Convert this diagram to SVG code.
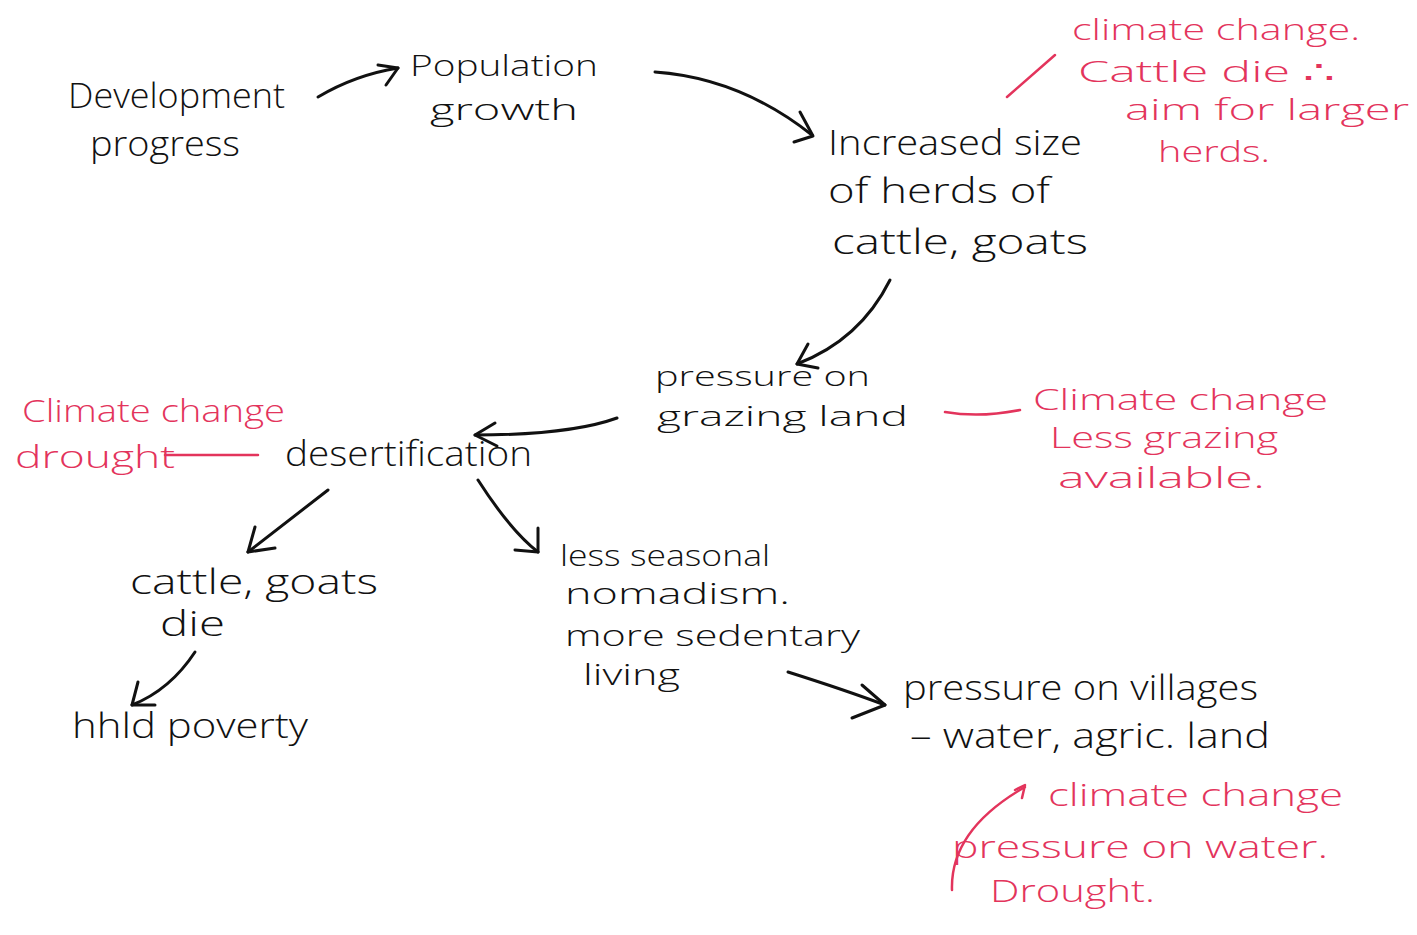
<svg xmlns="http://www.w3.org/2000/svg" width="1417" height="935" viewBox="0 0 1417 935">
<style>
.t{font-family:"Open Sans","Liberation Sans",sans-serif;font-size:34px;fill:#111;font-weight:300}
.r{font-family:"Open Sans","Liberation Sans",sans-serif;font-size:32px;fill:#e3345c;font-weight:300}
.s{font-size:30px}
.xs{font-size:28px}
.c{fill:none;stroke:#111;stroke-width:3;stroke-linecap:round;stroke-linejoin:round}
.cr{fill:none;stroke:#e3345c;stroke-width:2.5;stroke-linecap:round;stroke-linejoin:round}
</style>
<rect width="1417" height="935" fill="#fff"/>
<g id="development">
<text class="t" x="68" y="108" textLength="217" lengthAdjust="spacingAndGlyphs">Development</text>
<text class="t" x="90" y="156" textLength="150" lengthAdjust="spacingAndGlyphs">progress</text>
</g>
<g id="population">
<text class="t s" x="410" y="76" textLength="188" lengthAdjust="spacingAndGlyphs">Population</text>
<text class="t s" x="430" y="120" textLength="148" lengthAdjust="spacingAndGlyphs">growth</text>
</g>
<g id="herds">
<text class="t" x="828" y="155" textLength="254" lengthAdjust="spacingAndGlyphs">Increased size</text>
<text class="t" x="828" y="203" textLength="222" lengthAdjust="spacingAndGlyphs">of herds of</text>
<text class="t" x="832" y="254" textLength="256" lengthAdjust="spacingAndGlyphs">cattle, goats</text>
</g>
<g id="note-herds">
<text class="r s" x="1072" y="40" textLength="288" lengthAdjust="spacingAndGlyphs">climate change.</text>
<text class="r s" x="1078" y="82" textLength="257" lengthAdjust="spacingAndGlyphs">Cattle die ∴</text>
<text class="r s" x="1125" y="120" textLength="284" lengthAdjust="spacingAndGlyphs">aim for larger</text>
<text class="r s" x="1158" y="162" textLength="112" lengthAdjust="spacingAndGlyphs">herds.</text>
</g>
<g id="grazing">
<text class="t xs" x="655" y="386" textLength="215" lengthAdjust="spacingAndGlyphs">pressure on</text>
<text class="t xs" x="657" y="426" textLength="251" lengthAdjust="spacingAndGlyphs">grazing land</text>
</g>
<g id="note-grazing">
<text class="r s" x="1033" y="410" textLength="295" lengthAdjust="spacingAndGlyphs">Climate change</text>
<text class="r s" x="1050" y="448" textLength="228" lengthAdjust="spacingAndGlyphs">Less grazing</text>
<text class="r s" x="1058" y="488" textLength="207" lengthAdjust="spacingAndGlyphs">available.</text>
</g>
<g id="desertification">
<text class="t" x="285" y="466" textLength="247" lengthAdjust="spacingAndGlyphs">desertification</text>
</g>
<g id="note-drought">
<text class="r" x="22" y="422" textLength="263" lengthAdjust="spacingAndGlyphs">Climate change</text>
<text class="r" x="15" y="468" textLength="160" lengthAdjust="spacingAndGlyphs">drought</text>
</g>
<g id="cattle-die">
<text class="t" x="130" y="594" textLength="248" lengthAdjust="spacingAndGlyphs">cattle, goats</text>
<text class="t" x="160" y="636" textLength="65" lengthAdjust="spacingAndGlyphs">die</text>
</g>
<g id="poverty">
<text class="t" x="72" y="738" textLength="236" lengthAdjust="spacingAndGlyphs">hhld poverty</text>
</g>
<g id="sedentary">
<text class="t s" x="560" y="566" textLength="210" lengthAdjust="spacingAndGlyphs">less seasonal</text>
<text class="t s" x="565" y="604" textLength="225" lengthAdjust="spacingAndGlyphs">nomadism.</text>
<text class="t s" x="565" y="646" textLength="295" lengthAdjust="spacingAndGlyphs">more sedentary</text>
<text class="t s" x="583" y="685" textLength="97" lengthAdjust="spacingAndGlyphs">living</text>
</g>
<g id="villages">
<text class="t" x="903" y="700" textLength="355" lengthAdjust="spacingAndGlyphs">pressure on villages</text>
<text class="t" x="910" y="748" textLength="360" lengthAdjust="spacingAndGlyphs">– water, agric. land</text>
</g>
<g id="note-water">
<text class="r" x="1048" y="806" textLength="295" lengthAdjust="spacingAndGlyphs">climate change</text>
<text class="r" x="952" y="858" textLength="376" lengthAdjust="spacingAndGlyphs">pressure on water.</text>
<text class="r" x="990" y="902" textLength="165" lengthAdjust="spacingAndGlyphs">Drought.</text>
</g>
<g id="connectors">
<path class="c" d="M318 97 Q355 75 398 68"/>
<path class="c" d="M378 65 L398 68 L386 85"/>
<path class="c" d="M655 72 Q740 78 812 135"/>
<path class="c" d="M800 112 L813 136 L794 142"/>
<path class="c" d="M890 280 Q860 340 797 364"/>
<path class="c" d="M808 344 L797 364 L818 368"/>
<path class="c" d="M617 418 Q570 435 475 435"/>
<path class="c" d="M495 423 L475 435 L497 446"/>
<path class="c" d="M328 490 L248 552"/>
<path class="c" d="M255 527 L248 552 L275 548"/>
<path class="c" d="M478 480 Q510 530 538 552"/>
<path class="c" d="M538 528 L538 552 L515 550"/>
<path class="c" d="M195 652 Q170 690 132 705"/>
<path class="c" d="M138 682 L132 705 L155 705"/>
<path class="c" d="M788 672 Q845 690 885 705"/>
<path class="c" d="M862 685 L885 705 L852 718"/>
<path class="cr" d="M1007 97 L1055 55"/>
<path class="cr" d="M945 412 Q980 418 1020 410"/>
<path class="cr" d="M165 455 L258 455"/>
<path class="cr" d="M952 890 Q950 830 1025 787"/>
<path class="cr" d="M1015 790 L1025 785 L1022 798"/>
</g>
</svg>
